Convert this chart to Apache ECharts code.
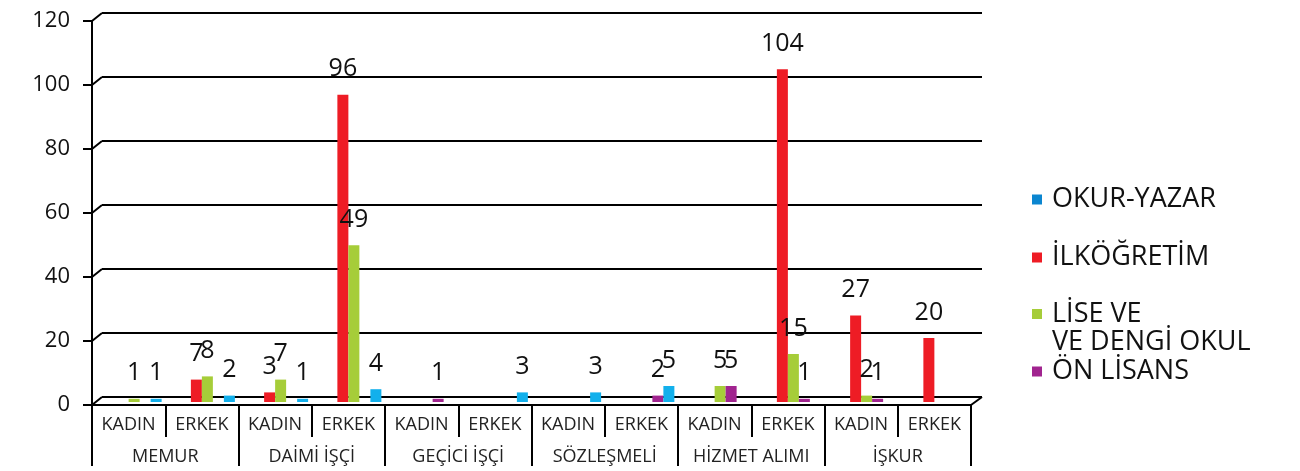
<!DOCTYPE html>
<html><head><meta charset="utf-8">
<script src="https://cdn.jsdelivr.net/npm/echarts@6/dist/echarts.min.js"></script>
<style>html,body{margin:0;padding:0;background:#fff}#c{width:1300px;height:471px}</style>
</head><body><div id="c"></div>
<script>
const groups = ['MEMUR', 'DAİMİ İŞÇİ', 'GEÇİCİ İŞÇİ', 'SÖZLEŞMELİ', 'HİZMET ALIMI', 'İŞKUR'];
const genders = ['KADIN', 'ERKEK'];
const categories = ['MEMUR KADIN','MEMUR ERKEK','DAİMİ İŞÇİ KADIN','DAİMİ İŞÇİ ERKEK','GEÇİCİ İŞÇİ KADIN','GEÇİCİ İŞÇİ ERKEK','SÖZLEŞMELİ KADIN','SÖZLEŞMELİ ERKEK','HİZMET ALIMI KADIN','HİZMET ALIMI ERKEK','İŞKUR KADIN','İŞKUR ERKEK'];
const subLabels = ['KADIN','ERKEK','KADIN','ERKEK','KADIN','ERKEK','KADIN','ERKEK','KADIN','ERKEK','KADIN','ERKEK'];
const okurYazar  = [1, 2, 1, 4, null, 3, 3, 5, null, null, null, null];
const ilkogretim = [null, 7, 3, 96, null, null, null, null, null, 104, 27, 20];
const liseVeDengi = [1, 8, 7, 49, null, null, null, null, 5, 15, 2, null];
const onLisans   = [null, null, null, null, 1, null, null, 2, 5, 1, 1, null];
const yMin = 0, yMax = 120, yStep = 20;
const names = ['OKUR-YAZAR', 'İLKÖĞRETİM', 'LİSE VE VE DENGİ OKUL', 'ÖN LİSANS'];

const FONT = '"Open Sans", "Noto Sans", sans-serif';
const colors = {blue:'#12B0EC', red:'#EE1C25', green:'#A6CD39', purple:'#A1248F'};
const chart = echarts.init(document.getElementById('c'), null, {renderer:'canvas'});

function barSeries(name, data, color) {
  return {
    name, type:'bar', data, xAxisIndex:3, yAxisIndex:2, barWidth:11, barGap:'0%',
    itemStyle:{color}, z:3,
    label:{show:true, position:'top', distance:13, fontFamily:FONT, fontSize:25, color:'#111'}
  };
}
const legBase = {orient:'vertical', left:1032, itemWidth:10, itemHeight:10, padding:0, icon:'rect',
  textStyle:{fontFamily:FONT, fontSize:27, color:'#111', padding:[0,0,0,5]}};

const option = {
  animation:false,
  grid:[
    {left:102, right:318, top:13, bottom:74},   // back wall
    {left:92, right:329, top:21, bottom:66},    // front axes
    {left:103, right:318, top:18, bottom:69}    // bars
  ],
  xAxis:[
    {gridIndex:0, type:'category', data:categories, show:false},
    {gridIndex:1, type:'category', data:subLabels, position:'bottom',
      axisLine:{lineStyle:{color:'#000', width:2}},
      axisTick:{show:true, interval:0, length:32, lineStyle:{color:'#000', width:2}},
      axisLabel:{interval:0, margin:11, fontFamily:FONT, fontSize:18, color:'#222'}},
    {gridIndex:1, type:'category', data:groups, position:'bottom',
      axisLine:{show:false},
      axisTick:{show:true, interval:0, length:61, lineStyle:{color:'#000', width:2}},
      axisLabel:{interval:0, margin:43, fontFamily:FONT, fontSize:18, color:'#222'}},
    {gridIndex:2, type:'category', data:categories, show:false}
  ],
  yAxis:[
    {gridIndex:0, type:'value', min:yMin, max:yMax, interval:yStep,
      axisLine:{show:false}, axisTick:{show:false}, axisLabel:{show:false},
      splitLine:{show:true, lineStyle:{color:'#000', width:2}}},
    {gridIndex:1, type:'value', min:yMin, max:yMax, interval:yStep,
      axisLine:{show:true, lineStyle:{color:'#000', width:2}},
      axisTick:{show:true, length:9, lineStyle:{color:'#000', width:2}},
      axisLabel:{margin:22, fontFamily:FONT, fontSize:22, color:'#111'},
      splitLine:{show:false}},
    {gridIndex:2, type:'value', min:yMin, max:yMax, interval:yStep, show:false, splitLine:{show:false}}
  ],
  legend:[
    Object.assign({}, legBase, {top:186, data:[{name:names[0], itemStyle:{color:'#0B86D0'}}]}),
    Object.assign({}, legBase, {top:244, data:[names[1]]}),
    Object.assign({}, legBase, {top:272, data:[names[2]], formatter:'\nLİSE VE\nVE DENGİ OKUL',
      textStyle:{fontFamily:FONT, fontSize:27, color:'#111', lineHeight:28, padding:[0,0,0,5]}}),
    Object.assign({}, legBase, {top:358, data:[names[3]]})
  ],
  series:[
    barSeries(names[1], ilkogretim, colors.red),
    barSeries(names[2], liseVeDengi, colors.green),
    barSeries(names[3], onLisans, colors.purple),
    barSeries(names[0], okurYazar, colors.blue)
  ]
};
chart.setOption(option);

// 3D floor/tick connectors derived from the axes' own scales
const g = [];
const ls = {stroke:'#000', lineWidth:2};
for (let v = yMin; v <= yMax; v += yStep) {
  const f = chart.convertToPixel({gridIndex:1}, [0, v]);
  const b = chart.convertToPixel({gridIndex:0}, [0, v]);
  g.push({type:'line', silent:true, shape:{x1:92, y1:f[1], x2:102, y2:b[1]}, style:ls});
}
const fr = chart.convertToPixel({gridIndex:1}, [11, 0]);
const br = chart.convertToPixel({gridIndex:0}, [11, 0]);
g.push({type:'line', silent:true, shape:{x1:971, y1:fr[1], x2:982, y2:br[1]}, style:ls});
chart.setOption({graphic:g});
</script></body></html>
